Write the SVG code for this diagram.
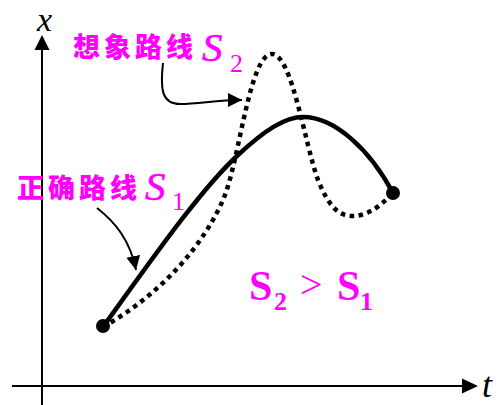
<svg xmlns="http://www.w3.org/2000/svg" width="498" height="405" viewBox="0 0 498 405">
<defs>
<style>
.axis{stroke:#000;stroke-width:2;fill:none}
.solid{stroke:#000;stroke-width:4.5;fill:none;stroke-linecap:round}
.dotted{stroke:#000;stroke-width:4.5;fill:none;stroke-dasharray:4.5 4.5}
.lead{stroke:#000;stroke-width:2;fill:none}
.cjk{font-family:"Noto Sans CJK SC","Noto Sans CJK JP",sans-serif;font-weight:900;fill:#FF00FF;font-size:27px;letter-spacing:4px}
.sym{font-family:"Liberation Serif","Times New Roman",serif;fill:#FF00FF}
.it{font-style:italic;font-size:41px;stroke:#FF00FF;stroke-width:0.6}
.lbl{font-family:"Liberation Serif","Times New Roman",serif;font-style:italic;fill:#000}
</style>
<marker id="ah" markerUnits="userSpaceOnUse" markerWidth="16" markerHeight="16" refX="14" refY="7" orient="auto">
<path d="M0,0 L14,7 L0,14 z" fill="#000"/>
</marker>
</defs>
<g id="axes">
<line class="axis" x1="12" y1="386" x2="464" y2="386"/>
<path d="M478,386 L462,378.5 L462,393.5 z" fill="#000"/>
<line class="axis" x1="42" y1="405" x2="42" y2="48"/>
<path d="M42,35 L34.5,50 L49.5,50 z" fill="#000"/>
<text class="lbl" x="37" y="31" font-size="34">x</text>
<text class="lbl" x="482" y="397" font-size="36">t</text>
</g>
<g id="connectors">
<path id="path-s2" class="dotted" d="M103,327 C160,295 205,245 225,195 C240,155 250,54 272,54 C292,54 305,145 318,180 C328,205 338,216 352,216 C370,216 383,203 393,193"/>
<path id="path-s1" class="solid" d="M103,327 C150,262 200,190 238,155 C265,130 285,117 303,117 C335,117 370,150 393,193"/>
<path id="lead-s2" class="lead" marker-end="url(#ah)" d="M163,63 C160,90 162,104 180,104 C200,104 215,100 242,100"/>
<path id="lead-s1" class="lead" marker-end="url(#ah)" d="M97,208 C115,222 130,240 136,270"/>
</g>
<g id="start-point"><circle cx="103" cy="326" r="7" fill="#000"/></g>
<g id="end-point"><circle cx="393" cy="193" r="7" fill="#000"/></g>
<g id="label-s2">
<text class="cjk" x="73" y="57">想象路线</text>
<text class="sym it" x="202" y="61">S</text>
<text class="sym" x="230" y="72" font-size="26">2</text>
</g>
<g id="label-s1">
<text class="cjk" x="17" y="198">正确路线</text>
<text class="sym it" x="145" y="200">S</text>
<text class="sym" x="172" y="210" font-size="26">1</text>
</g>
<g id="label-compare">
<text class="sym" x="249" y="300" font-size="42" font-weight="bold">S</text>
<text class="sym" x="274" y="310" font-size="26" font-weight="bold">2</text>
<text class="sym" x="300" y="298" font-size="40">&gt;</text>
<text class="sym" x="337" y="300" font-size="42" font-weight="bold">S</text>
<text class="sym" x="360" y="310" font-size="26" font-weight="bold">1</text>
</g>
</svg>
